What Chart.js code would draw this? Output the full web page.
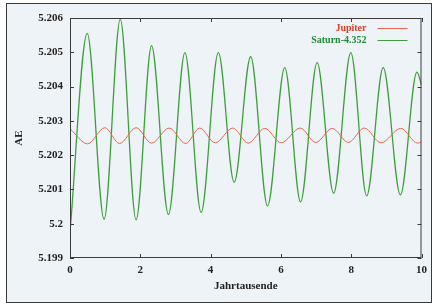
<!DOCTYPE html>
<html>
<head>
<meta charset="utf-8">
<script src="https://cdn.jsdelivr.net/npm/chart.js@4.4.0/dist/chart.umd.min.js"></script>
<style>
  html, body { margin: 0; padding: 0; background: #fff; }
  #wrap { position: relative; width: 433px; height: 304px; overflow: hidden; }
  #frame { position: absolute; left: 6px; top: 3px; width: 424px; height: 298px; border: 1.5px solid #3a3a3a; background: #eef3f7; }
  canvas { position: absolute; left: 0; top: 0; }
</style>
</head>
<body>
<div id="wrap">
  <div id="frame"></div>
  <canvas id="chart" width="433" height="304"></canvas>
</div>
<script>
// tick values
const xTicks = [0, 2, 4, 6, 8, 10];
const yTicks = [5.199, 5.200, 5.201, 5.202, 5.203, 5.204, 5.205, 5.206];

// Saturn (shifted by 4.352 AE): read at peaks and troughs
const saturnT  = [0, 0.49, 0.97, 1.43, 1.88, 2.32, 2.80, 3.27, 3.73, 4.22, 4.67, 5.14, 5.62, 6.11, 6.56, 7.03, 7.50, 7.99, 8.44, 8.91, 9.40, 9.87, 10];
const saturnAE = [5.19975, 5.20555, 5.20013, 5.20597, 5.20011, 5.20519, 5.20027, 5.20499, 5.20033, 5.20499, 5.20121, 5.20487,
                  5.20052, 5.20455, 5.20064, 5.20470, 5.20089, 5.20499, 5.20081, 5.20455, 5.20084, 5.20442, 5.20405];

// Jupiter: read at peaks and troughs
const jupiterT  = [0, 0.50, 0.99, 1.41, 1.88, 2.32, 2.82, 3.29, 3.69, 4.13, 4.63, 5.07, 5.54, 6.01, 6.55, 6.99, 7.46, 7.92, 8.37, 8.85, 9.41, 9.89, 10];
const jupiterAE = [5.20277, 5.20233, 5.20280, 5.20234, 5.20280, 5.20235, 5.20279, 5.20234, 5.20279, 5.20236, 5.20279, 5.20235,
                   5.20278, 5.20236, 5.20279, 5.20237, 5.20278, 5.20237, 5.20279, 5.20236, 5.20278, 5.20235, 5.20238];

const labelFont = { family: "'Liberation Serif', 'DejaVu Serif', serif", size: 11, weight: 'bold' };

function toPoints(xs, ys) {
    return xs.map((x, i) => ({ x: x, y: ys[i] }));
}

// gnuplot style frame with inward ticks on all sides
const frameTicks = {
    id: 'frameTicks',
    afterDatasetsDraw(chart) {
        const ctx = chart.ctx;
        const a = chart.chartArea;
        const xs = chart.scales.x, ys = chart.scales.y;
        const len = 4;
        ctx.save();
        ctx.strokeStyle = '#3c3c3c';
        ctx.lineWidth = 1;
        ctx.strokeRect(a.left + 0.5, a.top + 0.5, a.right - a.left - 1, a.bottom - a.top - 1);
        ctx.beginPath();
        xTicks.forEach(v => {
            const px = Math.round(xs.getPixelForValue(v)) + 0.5;
            ctx.moveTo(px, a.bottom); ctx.lineTo(px, a.bottom - len);
            ctx.moveTo(px, a.top); ctx.lineTo(px, a.top + len);
        });
        yTicks.forEach(v => {
            const py = Math.round(ys.getPixelForValue(v)) + 0.5;
            ctx.moveTo(a.left, py); ctx.lineTo(a.left + len, py);
            ctx.moveTo(a.right, py); ctx.lineTo(a.right - len, py);
        });
        ctx.stroke();
        ctx.restore();
    }
};

// legend: text right aligned, then a line sample
const keyBox = {
    id: 'keyBox',
    afterDraw(chart) {
        const ctx = chart.ctx;
        const a = chart.chartArea;
        const textRight = a.right - 55;
        ctx.save();
        ctx.font = "bold 10px 'Liberation Serif', serif";
        ctx.textAlign = 'right';
        ctx.textBaseline = 'middle';
        chart.data.datasets.forEach((ds, i) => {
            const y = a.top + 10 + i * 12;
            ctx.fillStyle = ds.keyColor;
            ctx.fillText(ds.label, textRight, y);
            ctx.strokeStyle = ds.borderColor;
            ctx.lineWidth = 1;
            ctx.beginPath();
            ctx.moveTo(textRight + 11, y + 0.5);
            ctx.lineTo(textRight + 41, y + 0.5);
            ctx.stroke();
        });
        ctx.restore();
    }
};

new Chart(document.getElementById('chart'), {
    type: 'scatter',
    data: {
        datasets: [
            {
                label: 'Jupiter',
                data: toPoints(jupiterT, jupiterAE),
                showLine: true,
                borderColor: '#e4694f',
                keyColor: '#d4432c',
                borderWidth: 1,
                pointRadius: 0,
                cubicInterpolationMode: 'monotone'
            },
            {
                label: 'Saturn-4.352',
                data: toPoints(saturnT, saturnAE),
                showLine: true,
                borderColor: '#3f9e3c',
                keyColor: '#1f8a35',
                borderWidth: 1.3,
                pointRadius: 0,
                cubicInterpolationMode: 'monotone'
            }
        ]
    },
    options: {
        responsive: false,
        animation: false,
        events: [],
        layout: { padding: { left: 0, top: 18, right: 8, bottom: 0 } },
        plugins: {
            legend: { display: false },
            tooltip: { enabled: false }
        },
        scales: {
            x: {
                type: 'linear',
                min: 0,
                max: 10,
                afterBuildTicks: s => { s.ticks = xTicks.map(v => ({ value: v })); },
                afterFit: s => { s.height = 46; },
                ticks: { font: labelFont, color: '#222', padding: 6, maxRotation: 0 },
                grid: { drawOnChartArea: false, drawTicks: false },
                border: { display: false },
                title: { display: true, text: 'Jahrtausende', font: labelFont, color: '#222', padding: { top: 0, bottom: 11 } }
            },
            y: {
                type: 'linear',
                min: 5.199,
                max: 5.206,
                afterBuildTicks: s => { s.ticks = yTicks.map(v => ({ value: v })); },
                afterFit: s => { s.width = 70; },
                ticks: {
                    font: labelFont,
                    color: '#222',
                    padding: 7,
                    callback: v => String(parseFloat(v.toFixed(3)))
                },
                grid: { drawOnChartArea: false, drawTicks: false },
                border: { display: false },
                title: { display: true, text: 'AE', font: labelFont, color: '#222', padding: { top: 13, bottom: 0 } }
            }
        }
    },
    plugins: [frameTicks, keyBox]
});
</script>
</body>
</html>
